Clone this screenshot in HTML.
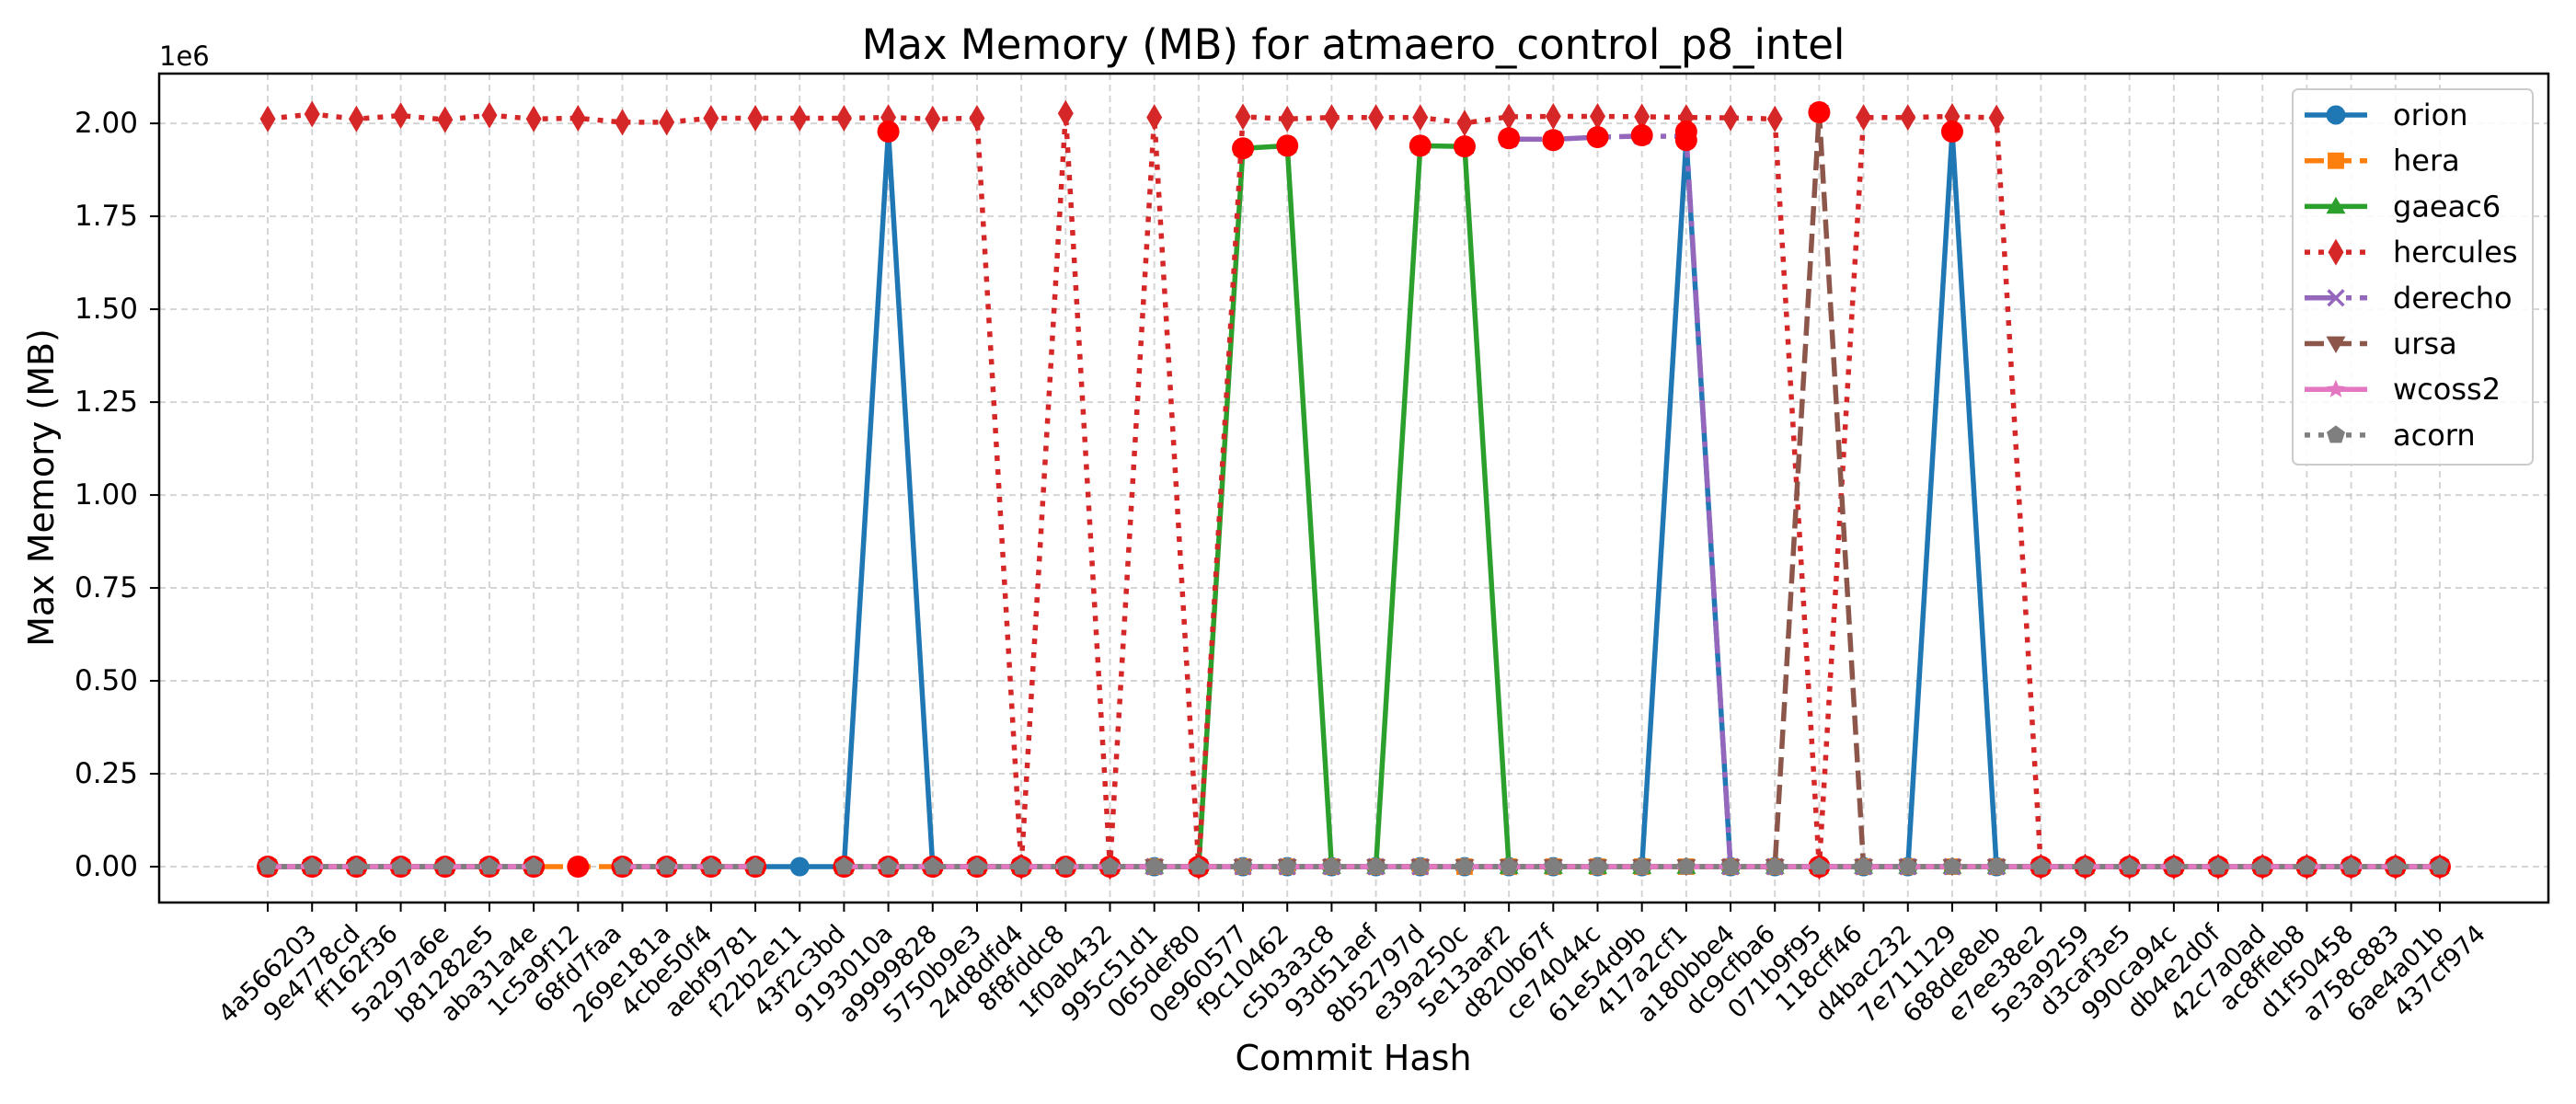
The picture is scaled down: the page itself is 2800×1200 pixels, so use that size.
<!DOCTYPE html>
<html><head><meta charset="utf-8"><style>
html,body{margin:0;padding:0;background:#fff;}
svg{display:block;font-family:"DejaVu Sans","Liberation Sans",sans-serif;}
</style></head><body>
<svg id="chart" width="2800" height="1200" viewBox="0 0 2800 1200" xmlns="http://www.w3.org/2000/svg">
<rect width="2800" height="1200" fill="#fff"/>
<text x="1471" y="64" font-size="45" text-anchor="middle">Max Memory (MB) for atmaero_control_p8_intel</text>
<text x="1471" y="1163" font-size="38" text-anchor="middle">Commit Hash</text>
<text transform="translate(58,530) rotate(-90)" font-size="38" text-anchor="middle">Max Memory (MB)</text>
<text x="173" y="71" font-size="29">1e6</text>
<g id="grid"></g>
<g id="series"></g>
<rect x="173" y="80" width="2597" height="901" fill="none" stroke="#000" stroke-width="2.5"/>
<g id="axes"></g>
<g id="legend"></g>
</svg>
<script>
const categories = ["4a566203","9e4778cd","ff162f36","5a297a6e","b81282e5","aba31a4e","1c5a9f12","68fd7faa","269e181a","4cbe50f4","aebf9781","f22b2e11","43f2c3bd","9193010a","a9999828","5750b9e3","24d8dfd4","8f8fddc8","1f0ab432","995c51d1","065def80","0e960577","f9c10462","c5b3a3c8","93d51aef","8b52797d","e39a250c","5e13aaf2","d820b67f","ce74044c","61e54d9b","417a2cf1","a180bbe4","dc9cfba6","071b9f95","118cff46","d4bac232","7e711129","688de8eb","e7ee38e2","5e3a9259","d3caf3e5","990ca94c","db4e2d0f","42c7a0ad","ac8ffeb8","d1f50458","a758c883","6ae4a01b","437cf974"];
const yTicks = [0,250000,500000,750000,1000000,1250000,1500000,1750000,2000000];
const yTickLabels = ["0.00","0.25","0.50","0.75","1.00","1.25","1.50","1.75","2.00"];
const orion = [0,0,0,0,0,0,0,null,0,0,0,0,0,0,1978000,0,0,0,0,0,0,0,0,0,0,0,0,0,0,0,0,0,1955000,0,0,0,0,0,1978000,0,0,0,0,0,0,0,0,0,0,0];
const hera = [0,0,0,0,0,0,0,0,0,0,0,0,null,0,0,0,0,0,0,0,0,0,0,0,0,0,0,0,0,0,0,0,0,0,0,0,0,0,0,0,0,0,0,0,0,0,0,0,0,0];
const gaeac6 = [0,0,0,0,0,0,0,null,0,0,0,0,null,0,0,0,0,0,0,0,0,0,1933000,1940000,0,0,1940000,1938000,0,0,0,0,0,0,0,0,0,0,0,0,0,0,0,0,0,0,0,0,0,0];
const hercules = [2012000,2025000,2012000,2021000,2010000,2022000,2012000,2014000,2003000,2003000,2014000,2014000,2014000,2014000,2016000,2012000,2014000,0,2027000,0,2016000,0,2018000,2012000,2016000,2016000,2016000,2001000,2018000,2019000,2019000,2018000,2016000,2015000,2012000,0,2016000,2016000,2019000,2015000,0,0,0,0,0,0,0,0,0,0];
const derecho = [0,0,0,0,0,0,0,null,0,0,0,0,null,0,0,0,0,0,0,0,0,0,0,0,0,0,0,null,1958000,1957000,1963000,1966000,1965000,0,0,0,0,0,0,0,0,0,0,0,0,0,0,0,0,0];
const ursa = [0,0,0,0,0,0,0,null,0,0,0,0,null,0,0,0,0,0,0,0,0,0,0,0,0,0,0,0,0,0,0,0,0,0,0,2030000,0,0,0,0,0,0,0,0,0,0,0,0,0,0];
const wcoss2 = [0,0,0,0,0,0,0,null,0,0,0,0,null,0,0,0,0,0,0,0,0,0,0,0,0,0,0,0,0,0,0,0,0,0,0,0,0,0,0,0,0,0,0,0,0,0,0,0,0,0];
const acorn = [0,0,0,0,0,0,0,null,0,0,0,0,null,0,0,0,0,0,0,0,0,0,0,0,0,0,0,0,0,0,0,0,0,0,0,0,0,0,0,0,0,0,0,0,0,0,0,0,0,0];
const flaggedHigh = [null,null,null,null,null,null,null,null,null,null,null,null,null,null,1978000,null,null,null,null,null,null,null,1933000,1940000,null,null,1940000,1938000,1960000,1955000,1963000,1968000,1978000,null,null,2030000,null,null,1978000,null,null,null,null,null,null,null,null,null,null,null];
const flaggedHigh2 = [null,null,null,null,null,null,null,null,null,null,null,null,null,null,null,null,null,null,null,null,null,null,null,null,null,null,null,null,null,null,null,null,1955000,null,null,null,null,null,null,null,null,null,null,null,null,null,null,null,null,null];
const flaggedLow = [0,0,0,0,0,0,0,0,0,0,0,0,null,0,0,0,0,0,0,0,null,0,null,null,null,null,null,null,null,null,null,null,null,null,null,0,null,null,null,null,0,0,0,0,0,0,0,0,0,0];

const NS="http://www.w3.org/2000/svg";
const L=173,R=2770,T=80,B=981;
const xMin=-2.45,xMax=categories.length-1+2.45;
const yMin=-96500,yMax=2134000;
const xS=i=>L+(i-xMin)/(xMax-xMin)*(R-L);
const yS=v=>B-(v-yMin)/(yMax-yMin)*(B-T);
function mk(tag,attrs,parent){const e=document.createElementNS(NS,tag);for(const k in attrs)e.setAttribute(k,attrs[k]);parent.appendChild(e);return e;}

const grid=document.getElementById('grid'),axes=document.getElementById('axes');
categories.forEach((c,i)=>{
  const x=xS(i);
  const g=mk('line',{x1:x,x2:x,y1:T,y2:B,stroke:'#b0b0b0','stroke-opacity':0.55,'stroke-width':2,'stroke-dasharray':'7,5'},grid);
  
  
  const t=mk('line',{x1:x,x2:x,y1:B,y2:B+10,stroke:'#000','stroke-width':2},axes);
  
  
  const tx=mk('text',{'font-size':27,'text-anchor':'middle','dominant-baseline':'central'},axes);
  tx.textContent=c;
  
  
  const len=tx.getComputedTextLength();const h=27;
  const half=(len+h)/(2*Math.SQRT2);
  tx.setAttribute('transform','translate('+x+','+(1001+half)+') rotate(-45)');
});
yTicks.forEach((v,i)=>{
  const y=yS(v);
  const g=mk('line',{x1:L,x2:R,y1:y,y2:y,stroke:'#b0b0b0','stroke-opacity':0.55,'stroke-width':2,'stroke-dasharray':'7,5'},grid);
  
  
  const t=mk('line',{x1:L-10,x2:L,y1:y,y2:y,stroke:'#000','stroke-width':2},axes);
  
  
  const tx=mk('text',{x:150,y:y,'font-size':31,'text-anchor':'end','dominant-baseline':'central'},axes);
  tx.textContent=yTickLabels[i];
  
  
});

function marker(shape,x,y,color,parent,scale){
  scale=scale||1;let e;
  const s=10.5*scale;
  if(shape==='o') e=mk('circle',{cx:x,cy:y,r:s,fill:color},parent);
  else if(shape==='s') e=mk('rect',{x:x-s*0.85,y:y-s*0.85,width:s*1.7,height:s*1.7,fill:color},parent);
  else if(shape==='^') e=mk('polygon',{points:`${x},${y-s} ${x+s},${y+s*0.75} ${x-s},${y+s*0.75}`,fill:color},parent);
  else if(shape==='v') e=mk('polygon',{points:`${x},${y+s} ${x+s},${y-s*0.75} ${x-s},${y-s*0.75}`,fill:color},parent);
  else if(shape==='d') e=mk('polygon',{points:`${x},${y-14.5*scale} ${x+8.5*scale},${y} ${x},${y+14.5*scale} ${x-8.5*scale},${y}`,fill:color},parent);
  else if(shape==='x'){e=mk('path',{d:`M${x-s*0.8},${y-s*0.8}L${x+s*0.8},${y+s*0.8}M${x-s*0.8},${y+s*0.8}L${x+s*0.8},${y-s*0.8}`,stroke:color,'stroke-width':3.5,fill:'none'},parent);}
  else if(shape==='*'){let p=[];for(let k=0;k<10;k++){const a=-Math.PI/2+k*Math.PI/5;const r=k%2?s*0.45:s;p.push((x+r*Math.cos(a)).toFixed(1)+','+(y+r*Math.sin(a)).toFixed(1));}e=mk('polygon',{points:p.join(' '),fill:color},parent);}
  else if(shape==='p'){let p=[];for(let k=0;k<5;k++){const a=-Math.PI/2+k*2*Math.PI/5;p.push((x+s*Math.cos(a)).toFixed(1)+','+(y+s*Math.sin(a)).toFixed(1));}e=mk('polygon',{points:p.join(' '),fill:color},parent);}
  return e;
}

const styles=[
 {name:'orion',data:orion,color:'#1f77b4',dash:'',shape:'o'},
 {name:'hera',data:hera,color:'#ff7f0e',dash:'21,9',shape:'s'},
 {name:'gaeac6',data:gaeac6,color:'#2ca02c',dash:'',shape:'^'},
 {name:'hercules',data:hercules,color:'#d62728',dash:'6,9',shape:'d'},
 {name:'derecho',data:derecho,color:'#9467bd',dash:'36,9,6,9',shape:'x'},
 {name:'ursa',data:ursa,color:'#8c564b',dash:'21,9',shape:'v'},
 {name:'wcoss2',data:wcoss2,color:'#e377c2',dash:'',shape:'*'},
 {name:'acorn',data:acorn,color:'#7f7f7f',dash:'6,9',shape:'p'}
];
const seriesG=document.getElementById('series');
function drawFlags(arr,nm){
  const g=mk('g',{},seriesG);
  
  
  arr.forEach((v,i)=>{if(v===null)return;
    const c=mk('circle',{cx:xS(i),cy:yS(v),r:12,fill:'#ff0000'},g);
    
    
  });
}
styles.forEach((st,si)=>{
  if(st.name==='wcoss2'){drawFlags(flaggedLow,'flag-markers-low');drawFlags(flaggedHigh,'flag-markers-high');drawFlags(flaggedHigh2,'flag-markers-high-2');}
  const g=mk('g',{},seriesG);
  
  
  let d='',pen=false;
  st.data.forEach((v,i)=>{if(v===null){pen=false;return;}d+=(pen?'L':'M')+xS(i).toFixed(1)+','+yS(v).toFixed(1);pen=true;});
  const p=mk('path',{d:d,fill:'none',stroke:st.color,'stroke-width':5.5,'stroke-dasharray':st.dash,'stroke-linejoin':'round'},g);
  
  
  st.data.forEach((v,i)=>{if(v===null)return;
    const m=marker(st.shape,xS(i),yS(v),st.color,g);
    
    
  });
});

const lg=document.getElementById('legend');
const box=mk('rect',{x:2492,y:97,width:261,height:408,rx:6,fill:'#fff','fill-opacity':0.85,stroke:'#cccccc','stroke-width':2},lg);


styles.forEach((st,i)=>{
  const y=125+i*49.7;
  const g=mk('g',{},lg);
  
  
  mk('line',{x1:2505,x2:2573,y1:y,y2:y,stroke:st.color,'stroke-width':5.5,'stroke-dasharray':st.dash},g);
  marker(st.shape,2539,y,st.color,g);
  const t=mk('text',{x:2601,y:y,'font-size':32,'dominant-baseline':'central'},g);
  t.textContent=st.name;
});
</script>
</body></html>
